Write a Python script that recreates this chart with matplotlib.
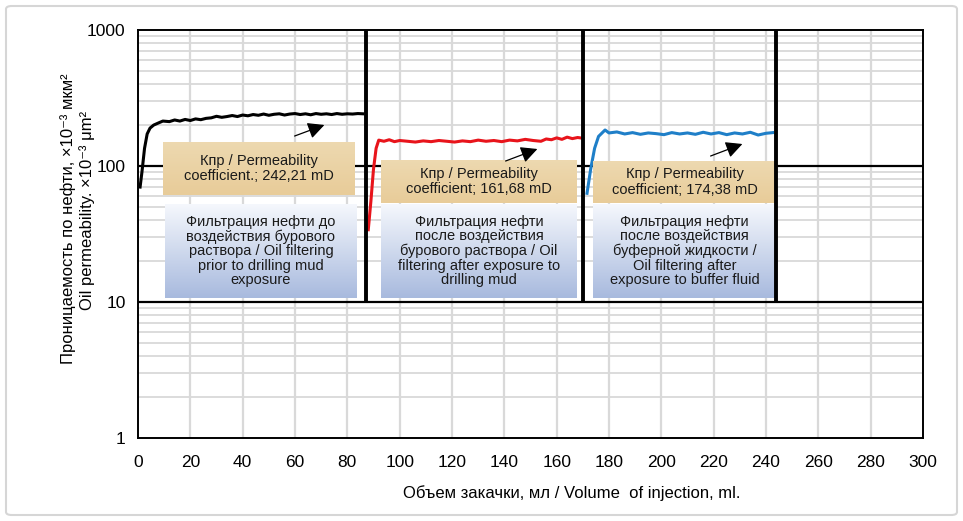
import numpy as np
import matplotlib
matplotlib.use("Agg")
import matplotlib.pyplot as plt
from matplotlib.patches import FancyBboxPatch
from matplotlib.ticker import FixedLocator, NullFormatter

plt.rcParams['font.family'] = ['Liberation Sans', 'DejaVu Sans']

# ---- data ----
x_before = [0.8, 1.5, 2.5, 3.5, 4.6, 6, 8, 9.5, 12, 14, 16, 18, 20, 22, 24, 26, 28, 30,
            32, 34, 36, 38, 40, 42, 44, 46, 48, 50, 52, 54, 56, 58, 60, 62, 64, 66,
            68, 70, 72, 74, 76, 78, 80, 82, 84, 86]
k_before = [70, 90, 135, 172, 190, 200, 208, 214, 212, 218, 214, 220, 216, 222, 219, 224,
            226, 232, 228, 231, 235, 231, 237, 234, 239, 236, 241, 236, 240, 242, 237, 241,
            243, 239, 242, 238, 243, 240, 242, 239, 243, 240, 242, 241, 243, 242]

x_mud = [88, 89, 90, 91, 92, 94, 96, 98, 100, 103, 106, 109, 112, 115, 118, 121, 124,
         127, 130, 133, 136, 139, 142, 145, 148, 151, 154, 156, 158, 160, 162, 164, 166, 168, 170]
k_mud = [34, 55, 95, 135, 155, 152, 156, 151, 154, 152, 150, 153, 151, 154, 152, 150, 153,
         151, 155, 152, 154, 151, 155, 153, 157, 154, 152, 158, 156, 161, 157, 163, 159, 162, 160]

x_buffer = [171.6, 173, 174.5, 176, 178.5, 180, 183, 186, 189, 192, 195, 198, 201, 204,
            207, 210, 213, 216, 219, 222, 225, 228, 231, 234, 237, 240, 242.6]
k_buffer = [63, 95, 135, 165, 184, 175, 178, 172, 176, 171, 175, 173, 170, 176, 172, 175,
            171, 177, 172, 176, 170, 175, 172, 177, 169, 174, 176]

stage_bounds = [87, 170, 243.7]

coef_labels = ["Кпр / Permeability\ncoefficient.; 242,21 mD",
               "Кпр / Permeability\ncoefficient; 161,68 mD",
               "Кпр / Permeability\ncoefficient; 174,38 mD"]
stage_labels = ["Фильтрация нефти до\nвоздействия бурового\nраствора / Oil filtering\nprior to drilling mud\nexposure",
                "Фильтрация нефти\nпосле воздействия\nбурового раствора / Oil\nfiltering after exposure to\ndrilling mud",
                "Фильтрация нефти\nпосле воздействия\nбуферной жидкости /\nOil filtering after\nexposure to buffer fluid"]

x_ticks = list(range(0, 301, 20))
y_ticks = [1, 10, 100, 1000]

# ---- figure ----
W, H = 963, 521
fig = plt.figure(figsize=(W / 100, H / 100), dpi=100)
fig.patch.set_facecolor('white')
fig.patches.append(FancyBboxPatch((6 / W, 6 / H), 951 / W, 509 / H,
                                  boxstyle="round,pad=0,rounding_size=0.006",
                                  transform=fig.transFigure, facecolor='white',
                                  edgecolor='#D6D6D6', linewidth=1.5, zorder=-10))

L, R, T, B = 138, 923, 30, 438
ax = fig.add_axes([L / W, (H - B) / H, (R - L) / W, (B - T) / H])
ax.set_yscale('log')
ax.set_xlim(0, 300)
ax.set_ylim(1, 1000)

# grid
minor_y = [m * 10 ** d for d in range(0, 3) for m in range(2, 10)]
for yv in minor_y:
    ax.axhline(yv, color='#D9D9D9', lw=1.3, zorder=0)
for xv in x_ticks[1:-1]:
    ax.axvline(xv, color='#D9D9D9', lw=1.6, zorder=0)
for yv in [10, 100]:
    ax.axhline(yv, color='black', lw=1.6, zorder=1)

ax.set_xticks(x_ticks)
ax.set_yticks(y_ticks)
ax.set_yticklabels([str(v) for v in y_ticks])
ax.yaxis.set_minor_locator(FixedLocator([]))
ax.yaxis.set_minor_formatter(NullFormatter())
ax.tick_params(axis='both', length=0, labelsize=12.5)
ax.tick_params(axis='x', pad=12)
ax.tick_params(axis='y', pad=9)
for s in ax.spines.values():
    s.set_linewidth(1.4)
    s.set_color('black')

# curves
ax.plot(x_before, k_before, color='black', lw=2.2, zorder=3)
ax.plot(x_mud, k_mud, color='#E8141B', lw=2.2, zorder=3)
ax.plot(x_buffer, k_buffer, color='#1F7FC8', lw=2.2, zorder=3)

# stage separators
for xb in stage_bounds:
    ax.plot([xb, xb], [10, 1000], color='black', lw=2.8, zorder=6, solid_capstyle='butt')

# boxes (pixel geometry -> axes fraction)
def fx(px):
    return (px - L) / (R - L)

def fy(py):
    return (B - py) / (B - T)

tan_boxes = [(163, 142, 355, 195), (381, 160, 577, 203), (593, 161, 776, 203)]
blue_boxes = [(165, 204, 357, 298), (381, 204, 577, 298), (593, 204, 776, 298)]
arrows = [((292, 137), (327, 124)), ((503, 162), (540, 148)), ((708, 157), (745, 143))]

grad = np.linspace(0, 1, 64).reshape(-1, 1)
tan_c0 = np.array([0.93, 0.85, 0.69])
tan_c1 = np.array([0.91, 0.80, 0.60])
tan_img = tan_c0 + (tan_c1 - tan_c0) * grad[..., None]
blue_c0 = np.array([0.96, 0.97, 0.99])
blue_c1 = np.array([0.66, 0.73, 0.87])
blue_img = blue_c0 + (blue_c1 - blue_c0) * grad[..., None]

for (x0, y0, x1, y1), txt in zip(tan_boxes, coef_labels):
    ax.imshow(tan_img, extent=(fx(x0), fx(x1), fy(y1), fy(y0)), transform=ax.transAxes,
              aspect='auto', zorder=4, interpolation='bilinear')
    ax.text(fx((x0 + x1) / 2), fy((y0 + y1) / 2), txt, transform=ax.transAxes,
            ha='center', va='center', fontsize=10.5, color='#1a1a1a', zorder=7,
            linespacing=1.1)

for (x0, y0, x1, y1), txt in zip(blue_boxes, stage_labels):
    ax.imshow(blue_img, extent=(fx(x0), fx(x1), fy(y1), fy(y0)), transform=ax.transAxes,
              aspect='auto', zorder=4, interpolation='bilinear')
    ax.text(fx((x0 + x1) / 2), fy((y0 + y1) / 2), txt, transform=ax.transAxes,
            ha='center', va='center', fontsize=10.5, color='#1a1a1a', zorder=7,
            linespacing=1.05)

for (p0, p1) in arrows:
    ax.annotate('', xy=(fx(p1[0]), fy(p1[1])), xytext=(fx(p0[0]), fy(p0[1])),
                xycoords='axes fraction', textcoords='axes fraction',
                arrowprops=dict(arrowstyle='-|>,head_length=1.0,head_width=0.5',
                                color='black', lw=0.9), zorder=8)

ax.set_xlim(0, 300)
ax.set_ylim(1, 1000)

# axis labels
fig.text(572 / W, 1 - 493 / H, "Объем закачки, мл / Volume  of injection, ml.",
         ha='center', va='center', fontsize=12)
fig.text(68 / W, 1 - 219 / H, "Проницаемость по нефти, ×10⁻³ мкм²",
         rotation=90, ha='center', va='center', fontsize=12,
         family=['Liberation Sans', 'DejaVu Sans'])
fig.text(87 / W, 1 - 210 / H, "Oil permeability. ×10⁻³ μm²",
         rotation=90, ha='center', va='center', fontsize=12,
         family=['Liberation Sans', 'DejaVu Sans'])

fig.savefig("out.png", dpi=100)
